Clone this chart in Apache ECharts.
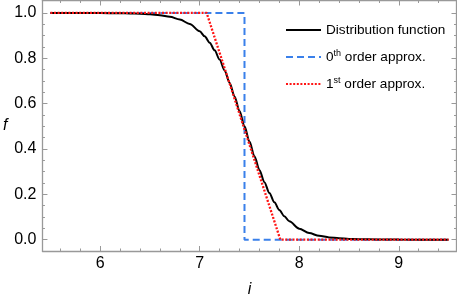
<!DOCTYPE html>
<html>
<head>
<meta charset="utf-8">
<script src="https://cdn.jsdelivr.net/npm/echarts@6/dist/echarts.min.js"></script>
<style>html,body{margin:0;padding:0;background:#fff}#c{width:457px;height:303px}</style>
</head>
<body>
<div id="c"></div>
<script>
// Distribution function samples
const distX = [5.5,5.8,6.0,6.2,6.3,6.4,6.5,6.6,6.7,6.8,6.9,7.0,7.05,7.1,7.15,7.2,7.25,7.3,7.35,7.4,7.45,7.5,7.55,7.6,7.65,7.7,7.75,7.8,7.85,7.9,8.0,8.1,8.2,8.3,8.4,8.5,8.6,8.8,9.0,9.5];
const distY = [1.0,0.9999,0.9996,0.9988,0.998,0.9966,0.9941,0.99,0.9829,0.9711,0.9513,0.9192,0.8968,0.869,0.835,0.7943,0.7467,0.6923,0.632,0.5672,0.5,0.4328,0.368,0.3077,0.2533,0.2057,0.165,0.131,0.1032,0.0808,0.0487,0.0289,0.0171,0.01,0.0059,0.0034,0.002,0.0007,0.0002,0.0];
// 0th order approximation (step)
const zeroX = [5.5,7.45,7.45,9.5];
const zeroY = [1,1,0,0];
// 1st order approximation (linear ramp)
const firstX = [5.5,7.07,7.81,9.5];
const firstY = [1,1,0,0];
// Ticks
const xTicks = [6,7,8,9];
const xMinor = [5.6,5.8,6.2,6.4,6.6,6.8,7.2,7.4,7.6,7.8,8.2,8.4,8.6,8.8,9.2,9.4];
const yTicks = [0,0.2,0.4,0.6,0.8,1.0];
const yMinor = [0.05,0.1,0.15,0.25,0.3,0.35,0.45,0.5,0.55,0.65,0.7,0.75,0.85,0.9,0.95];
const seriesNames = ['Distribution function','0th order approx.','1st order approx.'];

const zip = (a,b)=>a.map((v,i)=>[v,b[i]]);
const frame = '#999999';
const XMIN=5.42, XMAX=9.58, YMIN=-0.05, YMAX=1.055;

function xa(pos, major, showLabel){
  return {type:'value', position:pos, min:XMIN, max:XMAX, gridIndex:0,
    axisLine:{show:major, onZero:false, lineStyle:{color:frame,width:1.3}},
    axisTick:{show:true, inside:true, length:major?5:2.5, customValues:major?xTicks:xMinor, lineStyle:{color:frame,width:1}},
    axisLabel:{show:showLabel, customValues:xTicks, color:'#000', fontSize:16, fontFamily:'Liberation Sans', margin:5},
    splitLine:{show:false},
    name: (pos==='bottom'&&showLabel)?'i':'', nameLocation:'middle', nameGap:31,
    nameTextStyle:{fontStyle:'italic', fontSize:16, color:'#000', fontFamily:'Liberation Sans'}
  };
}
function ya(pos, major, showLabel){
  return {type:'value', position:pos, min:YMIN, max:YMAX, gridIndex:0,
    axisLine:{show:major, onZero:false, lineStyle:{color:frame,width:1.3}},
    axisTick:{show:true, inside:true, length:major?5:2.5, customValues:major?yTicks:yMinor, lineStyle:{color:frame,width:1}},
    axisLabel:{show:showLabel, customValues:yTicks, color:'#000', fontSize:16, fontFamily:'Liberation Sans', margin:6,
      formatter:v=>v.toFixed(1)},
    splitLine:{show:false},
    name: (pos==='left'&&showLabel)?'f':'', nameLocation:'middle', nameGap:35, nameRotate:0,
    nameTextStyle:{fontStyle:'italic', fontSize:16, color:'#000', fontFamily:'Liberation Sans'}
  };
}

const chart = echarts.init(document.getElementById('c'), null, {renderer:'canvas'});
chart.setOption({
  animation:false,
  backgroundColor:'#fff',
  grid:{left:41, top:0.5, width:415.5, height:255.2, containLabel:false},
  xAxis:[xa('bottom',true,true), xa('bottom',false,false), xa('top',true,false), xa('top',false,false)],
  yAxis:[ya('left',true,true), ya('left',false,false), ya('right',true,false), ya('right',false,false)],
  legend:{
    left:280, top:18, orient:'vertical', itemWidth:35, itemHeight:14, itemGap:12.5,
    data:seriesNames,
    itemStyle:{opacity:0},
    textStyle:{fontSize:13.6, color:'#000', fontFamily:'Liberation Sans',
      rich:{n:{fontSize:13.6, color:'#000', fontFamily:'Liberation Sans'}, sup:{fontSize:9, color:'#000', fontFamily:'Liberation Sans', verticalAlign:'top', padding:[0,0,6,0]}}},
    formatter:function(name){
      if(name===seriesNames[1]) return '{n|0}{sup|th}{n| order approx.}';
      if(name===seriesNames[2]) return '{n|1}{sup|st}{n| order approx.}';
      return name;
    }
  },
  series:[
    {name:seriesNames[0], type:'line', data:zip(distX,distY), smooth:0.3, smoothMonotone:'x', showSymbol:false, symbol:'none',
     lineStyle:{color:'#000', width:2}, itemStyle:{color:'#000'}, z:3},
    {name:seriesNames[1], type:'line', data:zip(zeroX,zeroY), showSymbol:false, symbol:'none',
     lineStyle:{color:'#3a80ea', width:2, type:[7,4]}, itemStyle:{color:'#3a80ea'}, z:2},
    {name:seriesNames[2], type:'line', data:zip(firstX,firstY), showSymbol:false, symbol:'none',
     lineStyle:{color:'#ff1414', width:2.3, type:[2,1.6]}, itemStyle:{color:'#ff1414'}, z:4}
  ]
});
</script>
</body>
</html>
